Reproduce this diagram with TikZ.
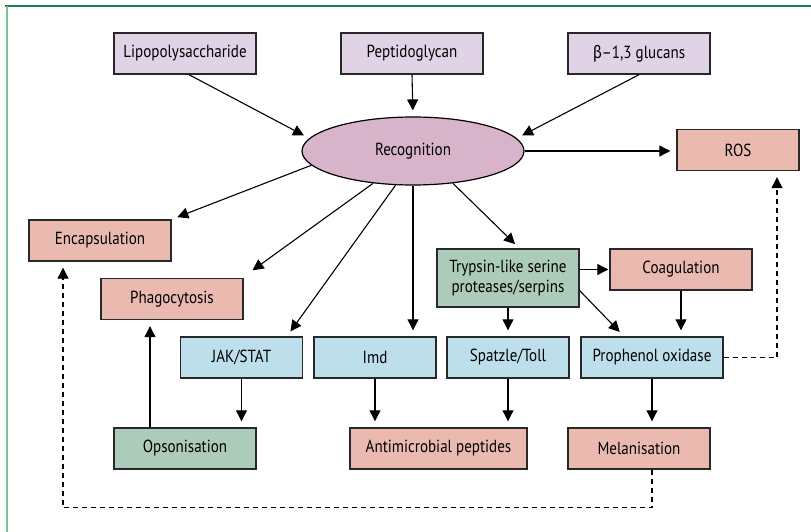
\documentclass[tikz,border=0pt]{standalone}
\usepackage{fontspec}
\setmainfont[FakeStretch=0.86]{PT Sans}
\newfontfamily\greekfont[FakeStretch=0.86]{Fira Sans}
\usetikzlibrary{arrows.meta,shapes.geometric}

\definecolor{ligandfill}{RGB}{224,211,230}
\definecolor{recogfill}{RGB}{216,180,202}
\definecolor{outcomefill}{RGB}{234,186,176}
\definecolor{cascadefill}{RGB}{173,203,185}
\definecolor{pathwayfill}{RGB}{189,223,236}
\definecolor{framegreen}{RGB}{22,128,78}
\definecolor{framelight}{RGB}{122,192,152}
\definecolor{boxline}{RGB}{40,40,40}

\tikzset{
  plainbox/.style={draw=boxline, line width=1.4pt, minimum width=142pt,
    minimum height=41pt, inner sep=0pt, align=center,
    font=\fontsize{17.5}{20}\selectfont},
  ligandbox/.style={plainbox, fill=ligandfill},
  outcomebox/.style={plainbox, fill=outcomefill},
  cascadebox/.style={plainbox, fill=cascadefill},
  pathwaybox/.style={plainbox, fill=pathwayfill, minimum width=122pt},
  recog/.style={ellipse, draw=black, line width=1.2pt, fill=recogfill,
    minimum width=222pt, minimum height=68pt, inner sep=0pt,
    font=\fontsize{17.5}{20}\selectfont},
  arr/.style={-{Triangle[width=11pt,length=11pt]}, line width=1.1pt, shorten >=6pt},
  dasharr/.style={arr, dash pattern=on 5pt off 4pt}
}

\begin{document}
\begin{tikzpicture}[x=1pt,y=-1pt]
\useasboundingbox (0,0) rectangle (811,532);

% frame lines
\draw[framegreen, line width=1.3pt] (5,6) -- (811,6);
\draw[framelight, line width=1.6pt] (7,6) -- (7,532);

% ligands
\node[ligandbox] (lipo) at (185,53.5) {Lipopolysaccharide};
\node[ligandbox] (pepti) at (412,53.5) {Peptidoglycan};
\node[ligandbox] (glucan) at (639,53.5) {{\greekfont β}–1,3 glucans};

% recognition
\node[recog] (rec) at (413,151) {Recognition};

% outcomes
\node[outcomebox, minimum width=122pt] (ros) at (738,150) {ROS};
\node[outcomebox] (encap) at (100,240.5) {Encapsulation};
\node[outcomebox] (phago) at (172,299) {Phagocytosis};
\node[outcomebox] (coag) at (681,269.5) {Coagulation};
\node[outcomebox, minimum width=177pt] (amp) at (438.5,448.5) {Antimicrobial peptides};
\node[outcomebox] (melan) at (639,448.5) {Melanisation};

% cascades
\node[cascadebox, minimum height=58pt] (tryp) at (508,278) {Trypsin-like serine\\proteases/serpins};
\node[cascadebox] (opso) at (185,448.5) {Opsonisation};

% pathways
\node[pathwaybox] (jak) at (241.5,357.5) {JAK/STAT};
\node[pathwaybox] (imd) at (375,357.5) {Imd};
\node[pathwaybox] (toll) at (508,357.5) {Spatzle/Toll};
\node[pathwaybox, minimum width=142pt] (ppo) at (652,357.5) {Prophenol oxidase};

% ligands to recognition
\draw[arr] ([xshift=4pt]lipo.south) -- (rec.173);
\draw[arr] (pepti.south) -- (rec.north);
\draw[arr] (glucan.south) -- (rec.7);

% out of recognition
\draw[arr] (rec.east) -- (rec.east -| ros.west);
\draw[arr] (rec.188) -- (encap.north east);
\draw[arr] (rec.219) -- ([shift={(4,-4)}]phago.north east);
\draw[arr] (rec.243) -- (jak.25);
\draw[arr] (rec.south) -- (rec.south |- imd.north);
\draw[arr] (rec.321) -- (tryp.69);

% serine protease cascade
\draw[arr, shorten >=1pt] (coag.west -| tryp.east) -- (coag.west);
\draw[arr] (tryp.south) -- (tryp.south |- toll.north);
\draw[arr] (tryp.350) -- (ppo.143);
\draw[arr] (coag.south) -- (coag.south |- ppo.north);

% pathways to effectors
\draw[arr] (jak.south) -- (jak.south |- opso.north);
\draw[arr] (imd.south) -- (imd.south |- amp.north);
\draw[arr] (toll.south) -- (toll.south |- amp.north);
\draw[arr] (ppo.south) -- (ppo.south |- melan.north);
\draw[arr] ([xshift=-35pt]opso.north) -- ([xshift=-35pt]opso.north |- phago.south);

% dashed feedback
\draw[dasharr] (ppo.east) -| ([xshift=39pt]ros.south);
\draw[dasharr] (ppo.south |- melan.south) -- ++(0,38) -| ([xshift=-37pt]encap.south);

\end{tikzpicture}
\end{document}
